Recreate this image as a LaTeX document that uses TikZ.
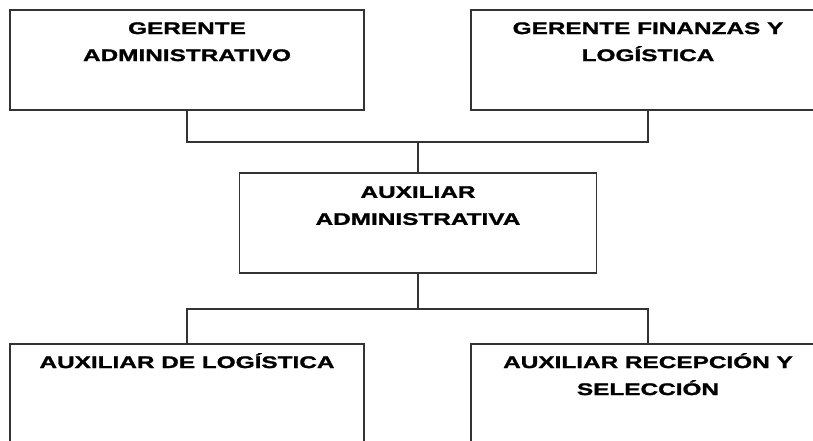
\documentclass[tikz,border=0pt]{standalone}
\usepackage{fontspec}
\newfontfamily\orgfont[FakeStretch=1.45, FakeBold=1.5]{Liberation Sans}
\usepackage{tikz}
\usetikzlibrary{positioning}

\begin{document}
\begin{tikzpicture}[
	x=1pt, y=-1pt,
	puesto/.style={rectangle, draw=black!80, line width=1.8pt, fill=white,
		minimum width=354pt, minimum height=100pt, inner sep=0pt},
	titulo/.style={anchor=north, yshift=-13pt, inner sep=0pt, align=center,
		text=black, font=\orgfont\bfseries\fontsize{16.8}{27}\selectfont},
	linea/.style={draw=black!80, line width=1.8pt}
	]
	\useasboundingbox (0,0) rectangle (813,441);
	% nivel superior
	\node (gadm) [puesto, label={[titulo]north:{GERENTE\\ADMINISTRATIVO}}] at (187,60) {};
	\node (gfin) [puesto, label={[titulo]north:{GERENTE FINANZAS Y\\LOG\'ISTICA}}] at (648,60) {};
	% nivel medio
	\node (aux) [puesto, minimum width=357pt, label={[titulo, yshift=-1pt]north:{AUXILIAR\\ADMINISTRATIVA}}] at (418,223) {};
	% nivel inferior
	\node (alog) [puesto, label={[titulo]north:{AUXILIAR DE LOG\smash{\'I}STICA}}] at (187,394) {};
	\node (arec) [puesto, label={[titulo]north:{AUXILIAR RECEPCI\smash{\'O}N Y\\SELECCI\'ON}}] at (648,394) {};
	% uniones
	\coordinate (j1) at (418,142);
	\coordinate (j2) at (418,309);
	\draw [linea] (gadm.south) |- (j1) -- (aux.north);
	\draw [linea] (gfin.south) |- (j1);
	\draw [linea] (aux.south) -- (j2);
	\draw [linea] (j2) -| (alog.north);
	\draw [linea] (j2) -| (arec.north);
\end{tikzpicture}
\end{document}
